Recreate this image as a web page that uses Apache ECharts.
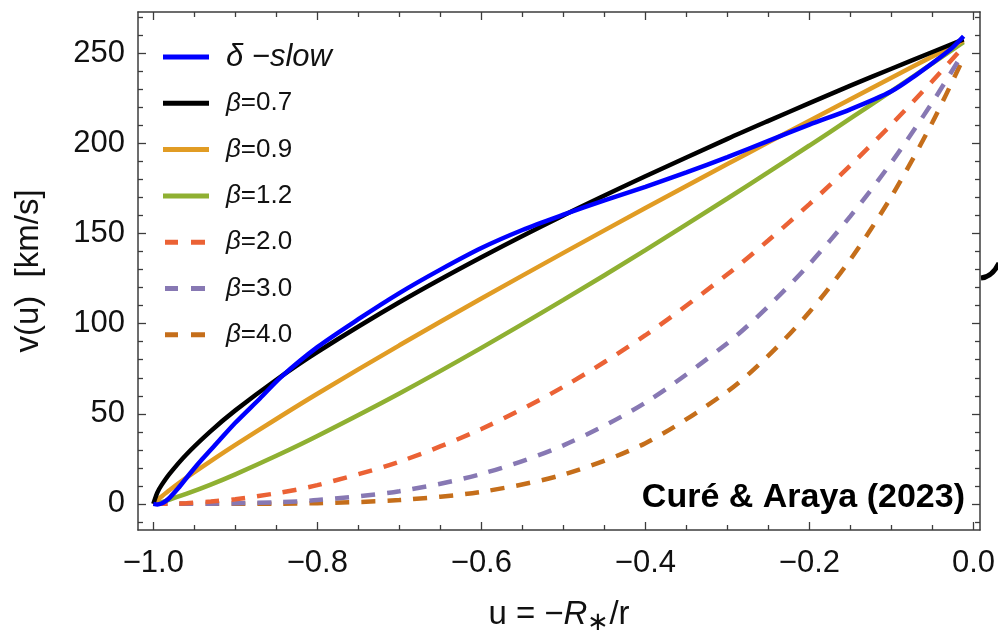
<!DOCTYPE html>
<html><head><meta charset="utf-8">
<script src="https://cdn.jsdelivr.net/npm/echarts@6/dist/echarts.min.js"></script>
<style>html,body{margin:0;padding:0;background:#fff}#c{width:998px;height:641px}</style>
</head><body><div id="c"></div>
<script>
// ---- data ----
const uBeta  = [-1, -0.995, -0.99, -0.98, -0.96, -0.93, -0.9, -0.85, -0.8, -0.7, -0.6, -0.5, -0.4, -0.3, -0.25, -0.2, -0.15, -0.1, -0.05, -0.012];
const beta07 = [0, 6.4, 10.4, 16.8, 27.3, 40.4, 51.9, 68.9, 84.3, 111.9, 136.9, 160.1, 181.8, 202.6, 212.6, 222.4, 232.1, 241.5, 250.8, 257.8];
const beta09 = [0, 2.2, 4.1, 7.7, 14.4, 23.7, 32.7, 47.1, 61.1, 88.0, 114.0, 139.3, 164.2, 188.6, 200.7, 212.7, 224.6, 236.5, 248.3, 257.2];
const beta12 = [0, 0.5, 1.0, 2.4, 5.5, 10.7, 16.4, 26.7, 37.7, 61.3, 86.6, 113.2, 140.8, 169.5, 184.1, 198.9, 213.9, 229.1, 244.5, 256.3];
const beta20 = [0, 0, 0, 0.1, 0.4, 1.3, 2.6, 5.9, 10.4, 23.4, 41.6, 65.0, 93.6, 127.4, 146.3, 166.4, 187.9, 210.6, 234.7, 253.8];
const beta30 = [0, 0, 0, 0, 0, 0.1, 0.3, 0.9, 2.1, 7.0, 16.6, 32.5, 56.2, 89.2, 109.7, 133.1, 159.7, 189.5, 222.9, 250.8];
const beta40 = [0, 0, 0, 0, 0, 0, 0, 0.1, 0.4, 2.1, 6.7, 16.3, 33.7, 62.4, 82.3, 106.5, 135.7, 170.6, 211.8, 247.7];

const uSlow = [-1.0, -0.995, -0.99, -0.985, -0.98, -0.97, -0.955, -0.94, -0.92, -0.9, -0.87, -0.844, -0.8, -0.75, -0.7, -0.65, -0.6, -0.55, -0.5, -0.45, -0.4, -0.35, -0.3, -0.25, -0.2, -0.15, -0.1, -0.07, -0.04, -0.025, -0.012];
const vSlow = [0, -0.3, 0.2, 1.5, 3.5, 8.5, 17, 25, 35, 45, 58.5, 70.5, 87, 102.5, 117, 130, 142, 152, 160.5, 168.5, 176, 184, 192.5, 201.5, 210.5, 219, 229, 238, 248, 253.5, 259.5];

const seriesNames = ['δ -slow', 'β=0.7', 'β=0.9', 'β=1.2', 'β=2.0', 'β=3.0', 'β=4.0'];
const seriesColors = ['#0000ff', '#000000', '#e19c24', '#8fb032', '#eb6235', '#8778b3', '#c56e1a'];

const xMajorTicks = [-1.0, -0.8, -0.6, -0.4, -0.2, 0.0];
const xMinorTicks = [-0.95, -0.9, -0.85, -0.75, -0.7, -0.65, -0.55, -0.5, -0.45, -0.35, -0.3, -0.25, -0.15, -0.1, -0.05];
const yMajorTicks = [0, 50, 100, 150, 200, 250];
const yMinorTicks = [-10, 10, 20, 30, 40, 60, 70, 80, 90, 110, 120, 130, 140, 160, 170, 180, 190, 210, 220, 230, 240, 260, 270];

const xMin = -1.0187, xMax = 0.008, yMin = -14.5, yMax = 273;
const frameColor = '#3c3c3c';
const FONT = '"Liberation Sans", Arial, sans-serif';

function pairs(xs, ys) { return xs.map((x, i) => [x, ys[i]]); }

const chart = echarts.init(document.getElementById('c'), null, {renderer: 'canvas'});

function xAx(pos, major, opts) {
  return Object.assign({
    type: 'value', position: pos, min: xMin, max: xMax,
    splitLine: {show: false},
    axisLine: {show: major, onZero: false, lineStyle: {color: frameColor, width: 1.5}},
    axisTick: {show: true, inside: true, length: major ? 8 : 5,
      customValues: major ? xMajorTicks : xMinorTicks,
      lineStyle: {color: frameColor, width: 1.3}},
    axisLabel: {show: false}
  }, opts || {});
}
function yAx(pos, major, opts) {
  return Object.assign({
    type: 'value', position: pos, min: yMin, max: yMax,
    splitLine: {show: false},
    axisLine: {show: major, onZero: false, lineStyle: {color: frameColor, width: 1.5}},
    axisTick: {show: true, inside: true, length: major ? 8 : 5,
      customValues: major ? yMajorTicks : yMinorTicks,
      lineStyle: {color: frameColor, width: 1.3}},
    axisLabel: {show: false}
  }, opts || {});
}

const fmtX = v => (v < -1e-9 ? '\u2212' : '') + Math.abs(v).toFixed(1);

const solidIcon = 'path://M0,0H46V5H0Z';
const dashIcon = 'path://M0,2.5L0,2.5M46,2.5L46,2.5M2,0H15V5H2ZM28,0H42V5H28Z';

const option = {
  animation: false,
  backgroundColor: '#ffffff',
  grid: {left: 138, right: 18, top: 12, bottom: 108, containLabel: false},
  xAxis: [
    xAx('bottom', true, {
      axisLabel: {show: true, customValues: xMajorTicks, formatter: fmtX, margin: 18,
        fontFamily: FONT, fontSize: 31, color: '#111'},
      name: '{t|u = \u2212}{i|R}{s|\u2217}{t|/r}', nameLocation: 'middle', nameGap: 64,
      nameTextStyle: {fontFamily: FONT, fontSize: 33, color: '#111',
        rich: {
          t: {fontFamily: FONT, fontSize: 33, color: '#111'},
          i: {fontFamily: FONT, fontSize: 33, fontStyle: 'italic', color: '#111'},
          s: {fontFamily: FONT, fontSize: 26, color: '#111', padding: [16, 0, 0, 0]}
        }}
    }),
    xAx('top', true),
    xAx('top', false),
    xAx('bottom', false)
  ],
  yAxis: [
    yAx('left', true, {
      axisLabel: {show: true, customValues: yMajorTicks, margin: 13,
        fontFamily: FONT, fontSize: 31, color: '#111'},
      name: 'v(u)  [km/s]', nameLocation: 'middle', nameGap: 93,
      nameTextStyle: {fontFamily: FONT, fontSize: 33, color: '#111'}
    }),
    yAx('right', true),
    yAx('right', false),
    yAx('left', false)
  ],
  legend: {
    show: true, orient: 'vertical', left: 163, top: 41, padding: 0,
    itemWidth: 46, itemHeight: 5, itemGap: 14.3,
    data: seriesNames.map((n, i) => ({name: n, icon: i >= 4 ? dashIcon : solidIcon})),
    textStyle: {fontFamily: FONT, fontSize: 26, lineHeight: 32, color: '#111', padding: [0, 0, 0, 12],
      rich: {
        d: {fontFamily: FONT, fontSize: 31, fontStyle: 'italic', lineHeight: 32, color: '#111'},
        b: {fontFamily: FONT, fontSize: 26, fontStyle: 'italic', lineHeight: 32, color: '#111'},
        n: {fontFamily: FONT, fontSize: 26, lineHeight: 32, color: '#111'}
      }},
    formatter: function (name) {
      if (name === 'δ -slow') return '{d|\u03b4 \u2212slow}';
      return '{b|\u03b2}{n|' + name.slice(1) + '}';
    }
  },
  title: {
    text: 'Curé & Araya (2023)', right: 33, top: 481, padding: 0,
    textStyle: {fontFamily: FONT, fontSize: 34, fontWeight: 'bold', color: '#000', lineHeight: 34}
  },
  graphic: [{
    type: 'bezierCurve', silent: true,
    shape: {x1: 981, y1: 278, x2: 999, y2: 263, cpx1: 992, cpy1: 277},
    style: {stroke: '#000', lineWidth: 5, fill: null}
  }],
  series: [
    {name: seriesNames[6], data: pairs(uBeta, beta40), color: seriesColors[6], dashed: true},
    {name: seriesNames[5], data: pairs(uBeta, beta30), color: seriesColors[5], dashed: true},
    {name: seriesNames[4], data: pairs(uBeta, beta20), color: seriesColors[4], dashed: true},
    {name: seriesNames[3], data: pairs(uBeta, beta12), color: seriesColors[3]},
    {name: seriesNames[2], data: pairs(uBeta, beta09), color: seriesColors[2]},
    {name: seriesNames[1], data: pairs(uBeta, beta07), color: seriesColors[1]},
    {name: seriesNames[0], data: pairs(uSlow, vSlow), color: seriesColors[0]}
  ].map((s, i) => ({
    type: 'line', name: s.name, data: s.data, xAxisIndex: 0, yAxisIndex: 0,
    showSymbol: false, symbol: 'none', smooth: 0.3, clip: true,
    z: 2 + i,
    itemStyle: {color: s.color},
    lineStyle: {color: s.color, width: 4.5, type: s.dashed ? [14, 12] : 'solid', cap: 'butt'}
  }))
};
chart.setOption(option);
</script>
</body></html>
